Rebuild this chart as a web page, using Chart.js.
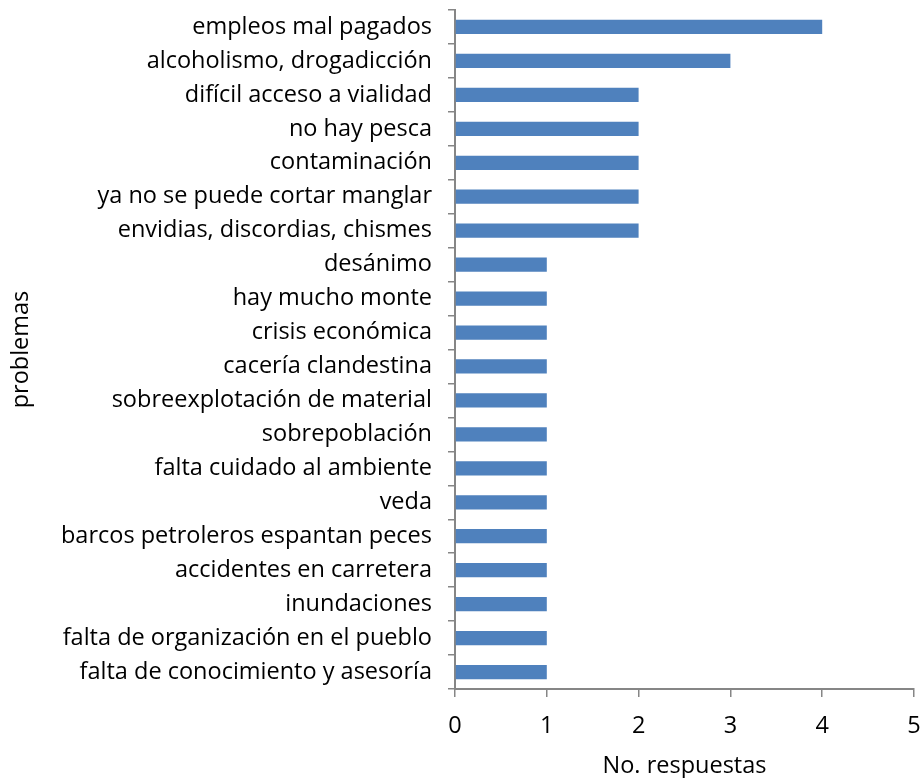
<!DOCTYPE html>
<html><head><meta charset="utf-8">
<script src="https://cdn.jsdelivr.net/npm/chart.js@4"></script>
<style>html,body{margin:0;padding:0;background:#fff;}canvas{display:block;}</style>
</head><body>
<canvas id="c" width="922" height="778"></canvas>
<script>
const categories = [
  "empleos mal pagados",
  "alcoholismo, drogadicción",
  "difícil acceso a vialidad",
  "no hay pesca",
  "contaminación",
  "ya no se puede cortar manglar",
  "envidias, discordias, chismes",
  "desánimo",
  "hay mucho monte",
  "crisis económica",
  "cacería clandestina",
  "sobreexplotación de material",
  "sobrepoblación",
  "falta cuidado al ambiente",
  "veda",
  "barcos petroleros espantan peces",
  "accidentes en carretera",
  "inundaciones",
  "falta de organización en el pueblo",
  "falta de conocimiento y asesoría"
];
const respuestas = [4,3,2,2,2,2,2,1,1,1,1,1,1,1,1,1,1,1,1,1];
const xTicks = [0,1,2,3,4,5];
const xTitle = "No. respuestas";
const yTitle = "problemas";

const FONT = "'Open Sans', sans-serif";
const FS = 23.5;
new Chart(document.getElementById('c'), {
  type: 'bar',
  data: { labels: categories, datasets: [{ data: respuestas, backgroundColor: '#4F81BD', borderWidth: 0, barPercentage: 0.42, categoryPercentage: 1 }] },
  options: {
    indexAxis: 'y', responsive: false, animation: false,
    layout: { padding: { top: 10, right: 8, left: 0, bottom: 0 } },
    plugins: { legend: { display: false }, tooltip: { enabled: false } },
    scales: {
      x: {
        min: 0, max: 5,
        afterBuildTicks: s => { s.ticks = xTicks.map(v => ({ value: v })); },
        afterFit: s => { s.height = 89; s.paddingLeft = 0; s.paddingRight = 8; },
        grid: { drawOnChartArea: false, drawTicks: true, tickLength: 8, color: '#868686', lineWidth: 1.5 },
        border: { color: '#868686', width: 2 },
        ticks: { color: '#000', font: { family: FONT, size: FS }, padding: 15 },
        title: { display: true, text: xTitle, color: '#000', font: { family: FONT, size: FS }, padding: { top: 8, bottom: -2 } }
      },
      y: {
        afterFit: s => { s.width = 455; s.paddingTop = 0; s.paddingBottom = 0; },
        grid: { drawOnChartArea: false, drawTicks: true, tickLength: 7, offset: true, color: '#868686', lineWidth: 1.5 },
        border: { color: '#868686', width: 2 },
        ticks: { color: '#000', font: { family: FONT, size: FS }, padding: 16, autoSkip: false },
        title: { display: true, text: yTitle, color: '#000', font: { family: FONT, size: FS }, padding: { top: 7, bottom: 0 } }
      }
    }
  }
});
</script>
</body></html>
